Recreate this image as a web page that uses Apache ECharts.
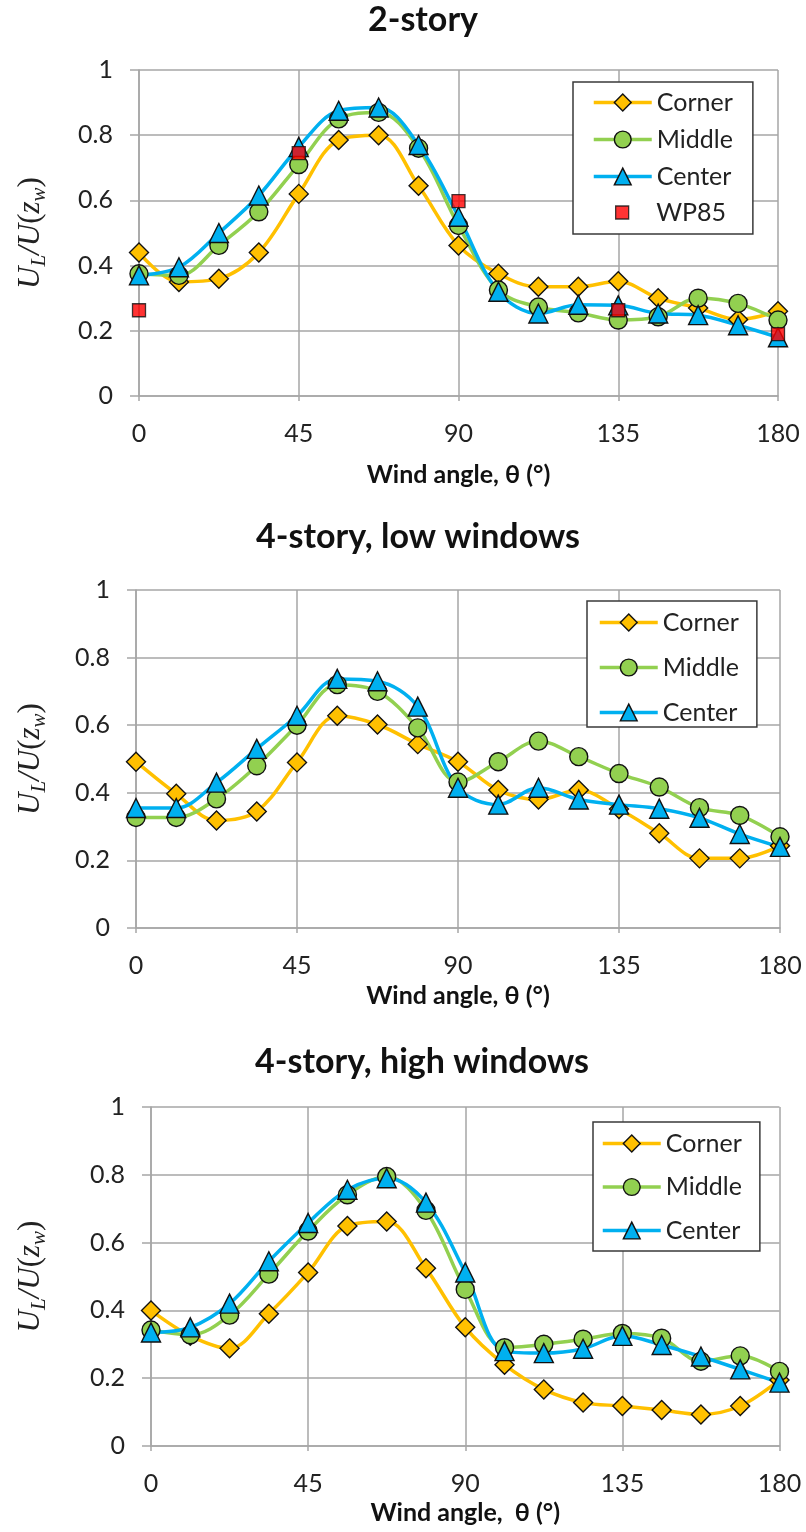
<!DOCTYPE html>
<html>
<head>
<meta charset="utf-8">
<script src="https://cdn.jsdelivr.net/npm/echarts@6/dist/echarts.min.js"></script>
<style>
html,body{margin:0;padding:0;background:#fff;}
#chart{width:806px;height:1532px;}
</style>
</head>
<body>
<div id="chart"></div>
<script>
// ---- data ----
const angles = [0, 11.25, 22.5, 33.75, 45, 56.25, 67.5, 78.75, 90, 101.25, 112.5, 123.75, 135, 146.25, 157.5, 168.75, 180];
const xTickLabels = [0, 45, 90, 135, 180];
const yTickLabels = [0, 0.2, 0.4, 0.6, 0.8, 1];
const panelTitles = ['2-story', '4-story, low windows', '4-story, high windows'];
const xAxisNames = ['Wind angle, \u03b8 (\u00b0)', 'Wind angle, \u03b8 (\u00b0)', 'Wind angle,  \u03b8 (\u00b0)'];
const seriesNames = ['Corner', 'Middle', 'Center', 'WP85'];

// 2-story
const corner2 = [0.44, 0.35, 0.36, 0.44, 0.62, 0.785, 0.80, 0.645, 0.462, 0.375, 0.335, 0.335, 0.352, 0.30, 0.27, 0.235, 0.26];
const middle2 = [0.375, 0.37, 0.462, 0.565, 0.71, 0.85, 0.87, 0.76, 0.523, 0.325, 0.273, 0.255, 0.233, 0.243, 0.30, 0.284, 0.233];
const center2 = [0.37, 0.395, 0.50, 0.615, 0.764, 0.875, 0.885, 0.77, 0.55, 0.32, 0.253, 0.28, 0.278, 0.253, 0.248, 0.217, 0.18];
const wp85Angles = [0, 45, 90, 135, 180];
const wp85 = [0.263, 0.745, 0.598, 0.263, 0.19];

// 4-story, low windows
const corner4L = [0.492, 0.397, 0.318, 0.345, 0.49, 0.628, 0.602, 0.544, 0.492, 0.408, 0.38, 0.408, 0.352, 0.28, 0.206, 0.206, 0.243];
const middle4L = [0.327, 0.327, 0.382, 0.48, 0.60, 0.72, 0.70, 0.592, 0.432, 0.492, 0.553, 0.507, 0.457, 0.417, 0.356, 0.333, 0.27];
const center4L = [0.355, 0.355, 0.43, 0.53, 0.628, 0.737, 0.73, 0.655, 0.415, 0.365, 0.415, 0.38, 0.365, 0.353, 0.326, 0.278, 0.24];

// 4-story, high windows
const corner4H = [0.40, 0.325, 0.288, 0.39, 0.512, 0.649, 0.662, 0.524, 0.35, 0.24, 0.167, 0.128, 0.118, 0.106, 0.093, 0.118, 0.195];
const middle4H = [0.342, 0.328, 0.386, 0.507, 0.634, 0.741, 0.795, 0.695, 0.462, 0.29, 0.30, 0.315, 0.332, 0.318, 0.25, 0.266, 0.22];
const center4H = [0.335, 0.35, 0.42, 0.545, 0.658, 0.756, 0.79, 0.718, 0.512, 0.28, 0.274, 0.287, 0.325, 0.298, 0.264, 0.226, 0.187];

// ---- styling / layout ----
const FONT = 'Lato, "Open Sans", sans-serif';
const GRID_COLOR = '#a6a6a6';
const TEXT_COLOR = '#222';
const colors = { Corner: '#FFC000', Middle: '#92D050', Center: '#00B0F0', WP85: '#FF0000' };
const symbols = { Corner: 'diamond', Middle: 'circle', Center: 'triangle', WP85: 'rect' };
const symbolSizes = { Corner: 19, Middle: 18, Center: 19, WP85: 13 };

const grids = [
  { left: 139, right: 28, top: 70, height: 326 },
  { left: 136, right: 26, top: 590, height: 338 },
  { left: 151, right: 26.5, top: 1107, height: 339 }
];
const titlePos = [ { x: 423, y: 3 }, { x: 418, y: 520 }, { x: 422, y: 1045 } ];
const xNameGaps = [66, 55, 54];

function pairs(xs, ys) { return xs.map((x, i) => [x, ys[i]]); }

function lineSeries(name, values, gi) {
  return {
    type: 'line', name: name, xAxisIndex: gi, yAxisIndex: gi,
    data: pairs(angles, values),
    smooth: 0.35,
    symbol: symbols[name], symbolSize: symbolSizes[name],
    lineStyle: { color: colors[name], width: 3.5 },
    itemStyle: { color: colors[name], borderColor: '#111', borderWidth: 1.4 },
    emphasis: { disabled: true },
    z: 2
  };
}

const panelData = [
  [corner2, middle2, center2],
  [corner4L, middle4L, center4L],
  [corner4H, middle4H, center4H]
];

const series = [];
panelData.forEach((arr, gi) => {
  series.push(lineSeries('Corner', arr[0], gi));
  series.push(lineSeries('Middle', arr[1], gi));
  series.push(lineSeries('Center', arr[2], gi));
});
series.push({
  type: 'scatter', name: 'WP85', xAxisIndex: 0, yAxisIndex: 0,
  data: pairs(wp85Angles, wp85),
  symbol: 'rect', symbolSize: symbolSizes.WP85,
  itemStyle: { color: colors.WP85, borderColor: '#111', borderWidth: 1.3 },
  emphasis: { disabled: true },
  z: 3
});

const xAxes = grids.map((g, gi) => ({
  type: 'value', gridIndex: gi,
  min: xTickLabels[0], max: xTickLabels[xTickLabels.length - 1],
  interval: xTickLabels[1] - xTickLabels[0],
  axisLine: { show: true, lineStyle: { color: GRID_COLOR, width: 1.5 } },
  axisTick: { show: true, length: 5, lineStyle: { color: GRID_COLOR, width: 1.5 } },
  splitLine: { show: true, lineStyle: { color: GRID_COLOR, width: 1.5 } },
  axisLabel: { fontFamily: FONT, fontSize: 25, color: TEXT_COLOR, margin: 25 },
  name: xAxisNames[gi], nameLocation: 'middle', nameGap: xNameGaps[gi],
  nameTextStyle: { fontFamily: FONT, fontSize: 25, fontWeight: 'bold', color: '#111' }
}));

const SERIF = '"Liberation Serif", "DejaVu Serif", serif';
const yName = '{a|U}{s|L}{a|/U}{b|(}{a|z}{s|w}{b|)}';
const yRich = {
  a: { fontFamily: SERIF, fontStyle: 'italic', fontSize: 31, color: '#222', verticalAlign: 'middle', lineHeight: 38 },
  b: { fontFamily: SERIF, fontSize: 31, color: '#222', verticalAlign: 'middle', lineHeight: 38 },
  s: { fontFamily: SERIF, fontStyle: 'italic', fontSize: 21, color: '#222', verticalAlign: 'bottom', lineHeight: 38 }
};

const yAxes = grids.map((g, gi) => ({
  type: 'value', gridIndex: gi,
  min: yTickLabels[0], max: yTickLabels[yTickLabels.length - 1],
  interval: yTickLabels[1] - yTickLabels[0],
  axisLine: { show: true, lineStyle: { color: GRID_COLOR, width: 1.5 } },
  axisTick: { show: true, length: 9, lineStyle: { color: GRID_COLOR, width: 1.5 } },
  splitLine: { show: true, lineStyle: { color: GRID_COLOR, width: 1.5 } },
  axisLabel: { fontFamily: FONT, fontSize: 25, color: TEXT_COLOR, margin: 26 },
  name: yName, nameLocation: 'middle', nameRotate: 90, nameGap: g.left - 50,
  nameTextStyle: { rich: yRich }
}));

const legendText = { fontFamily: FONT, fontSize: 25, color: TEXT_COLOR };
const legendCommon = {
  orient: 'vertical', itemWidth: 58, itemHeight: 21,
  textStyle: legendText, selectedMode: false,
  lineStyle: { width: 3.5 },
  itemStyle: { borderColor: '#111', borderWidth: 1.4 },
  borderColor: '#3a3a3a', borderWidth: 1.5, backgroundColor: '#fff'
};
const legends = [
  Object.assign({}, legendCommon, { data: ['Corner', 'Middle', 'Center'], left: 573, top: 82, itemGap: 12, padding: [8, 20, 45, 19] }),
  { data: [{ name: 'WP85', icon: 'path://M0,0L10,0L10,10L0,10Z' }], orient: 'vertical', left: 615, top: 200,
    itemWidth: 58, itemHeight: 13, symbolKeepAspect: true, textStyle: legendText, selectedMode: false, padding: 0,
    itemStyle: { borderColor: '#111', borderWidth: 1.3 } },
  Object.assign({}, legendCommon, { data: ['Corner', 'Middle', 'Center'], left: 587, top: 601, itemGap: 20, padding: [9, 18, 2, 11] }),
  Object.assign({}, legendCommon, { data: ['Corner', 'Middle', 'Center'], left: 593, top: 1122, itemGap: 18.5, padding: [9, 18, 8, 8] })
];

const titles = panelTitles.map((t, i) => ({
  text: t, left: titlePos[i].x, top: titlePos[i].y, textAlign: 'center', padding: 0,
  textStyle: { fontFamily: FONT, fontSize: 34, fontWeight: 'bold', color: '#111' }
}));

const chart = echarts.init(document.getElementById('chart'), null, { renderer: 'canvas' });
chart.setOption({
  animation: false,
  backgroundColor: '#fff',
  title: titles,
  legend: legends,
  grid: grids,
  xAxis: xAxes,
  yAxis: yAxes,
  series: series
});
</script>
</body>
</html>
